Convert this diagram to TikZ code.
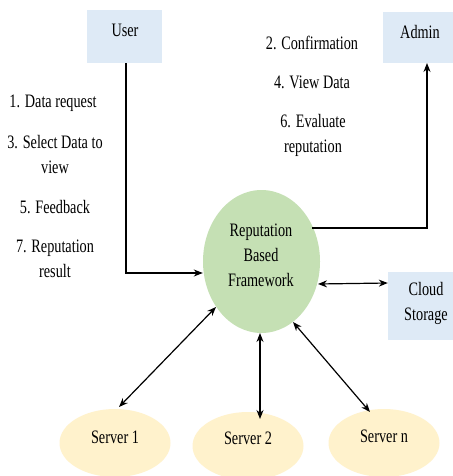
\documentclass[tikz,border=0pt]{standalone}
\usepackage{fontspec}
\setmainfont{Liberation Serif}[FakeStretch=0.75]
\usetikzlibrary{arrows.meta}
\definecolor{boxblue}{RGB}{222,234,246}
\definecolor{circgreen}{RGB}{197,224,180}
\definecolor{servyellow}{RGB}{255,242,204}
\tikzset{
  actor/.style={fill=boxblue, draw=none, minimum width=75pt, minimum height=53pt, inner sep=0pt},
  server/.style={ellipse, fill=servyellow, draw=none, minimum width=111pt, minimum height=68pt, inner sep=0pt},
  lab/.style={align=center, font=\fontsize{19}{25}\selectfont, inner sep=0pt},
  conn/.style={line width=1.2pt, -{Stealth[length=9pt,width=7pt]}},
  bconn/.style={line width=1.2pt, {Stealth[length=9pt,width=7pt]}-{Stealth[length=9pt,width=7pt]}}
}
\usetikzlibrary{shapes.geometric}
\begin{document}
\begin{tikzpicture}[x=1pt,y=-1pt]
\useasboundingbox (0,0) rectangle (452,476);
\fill[white] (0,0) rectangle (452,476);
% boxes
\node[actor] (user) at (124.5,36.5) {};
\node[lab] at (125,30) {User};
\node[actor, minimum width=70pt, minimum height=51pt] (admin) at (418,37.5) {};
\node[lab] at (420,32) {Admin};
\node[actor, minimum width=66pt, minimum height=68pt] (cloud) at (421,306) {};
\node[lab] at (426,303) {Cloud\\Storage};
% central ellipse
\node[ellipse, fill=circgreen, draw=none, minimum width=117pt, minimum height=143pt, inner sep=0pt] (rbf) at (261.5,261.5) {};
\node[lab] at (261,255.5) {Reputation\\Based\\Framework};
% servers
\node[server] (s1) at (115,443) {};
\node[lab] at (115,437) {Server 1};
\node[server] (s2) at (248,446) {};
\node[lab] at (248,438) {Server 2};
\node[server] (sn) at (384,443) {};
\node[lab] at (384,436) {Server n};
% labels
\node[lab] at (53,103) {1. Data request};
\node[lab] at (55,155) {3. Select Data to\\view};
\node[lab] at (55,207) {5. Feedback};
\node[lab] at (55,259) {7. Reputation\\result};
\node[lab] at (312,43) {2. Confirmation};
\node[lab] at (312,82) {4. View Data};
\node[lab] at (313,135) {6. Evaluate\\reputation};
% connectors
\draw[conn] (user.south -| 126,0) |- (rbf.west |- 0,273);
\draw[conn] (rbf.east |- 0,228) ++(-8,0) -| (427,63);
\draw[bconn] (318,284) -- (cloud.west |- 0,283);
\draw[bconn] (s1) ++(4,-36) -- (216,307);
\draw[bconn] (260,419) -- (260,333);
\draw[bconn] (370,412) -- (293,322);
\end{tikzpicture}
\end{document}
